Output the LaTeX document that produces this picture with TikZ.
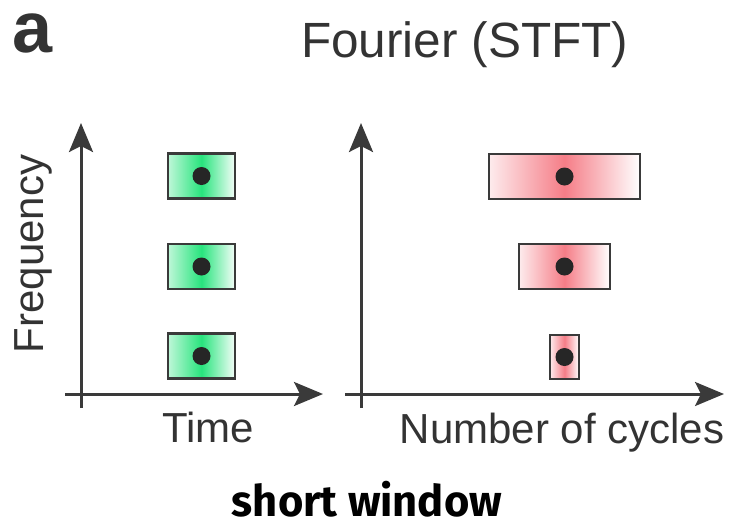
\documentclass[tikz,border=0pt]{standalone}
\usepackage{fontspec}
\setmainfont{Liberation Sans}
\newfontfamily\labelfont{Fira Sans}
\usetikzlibrary{arrows.meta}

\definecolor{inkgray}{HTML}{3A3A3A}
\definecolor{textgray}{HTML}{333333}
\definecolor{tfgreen}{RGB}{40,228,125}
\definecolor{tfred}{RGB}{245,125,135}

\tikzset{
  axis/.style={line width=3pt, draw=inkgray,
    -{Stealth[length=29pt, width=24pt, inset=6pt]}},
  tile/.style={rectangle, draw=inkgray, line width=2.6pt, inner sep=0pt},
  % the middle colour has to come last: left/right colour reset it
  gtile/.style={tile, left color=tfgreen!30, right color=tfgreen!5, middle color=tfgreen},
  rtile/.style={tile, left color=tfred!15, right color=white, middle color=tfred},
  atom/.style={circle, fill=black!85, inner sep=0pt, minimum size=18pt},
  lbl/.style={text=textgray, inner sep=0pt, font=\fontsize{42}{50}\selectfont},
}

\begin{document}
\begin{tikzpicture}[x=1pt, y=-1pt]
  \useasboundingbox (0,0) rectangle (735,520);

  % panel letter and title
  \node[anchor=base west, inner sep=0pt, text=textgray, text height=38pt,
        font=\fontsize{72}{80}\selectfont\bfseries] (panel) at (12,52) {a};
  \node[anchor=base west, inner sep=0pt, text=textgray,
        font=\fontsize{49.5}{56}\selectfont] (title) at (301,57) {Fourier (STFT)};

  % left axes: time vs frequency
  \coordinate (lx0) at (65,394);
  \coordinate (lx1) at (323,394);
  \coordinate (ly0) at (81,408);
  \coordinate (ly1) at (81,123);
  \draw[axis] (lx0) -- (lx1);
  \draw[axis] (ly0) -- (ly1);

  % right axes: number of cycles vs frequency
  \coordinate (rx0) at (345,394);
  \coordinate (rx1) at (724,394);
  \coordinate (ry0) at (361,408);
  \coordinate (ry1) at (361,123);
  \draw[axis] (rx0) -- (rx1);
  \draw[axis] (ry0) -- (ry1);

  % fixed-size tiles in the time-frequency plane
  \node[gtile, minimum width=67pt, minimum height=45pt] (g1) at (201.5,176) {};
  \node[gtile, minimum width=67pt, minimum height=45pt] (g2) at (201.5,266.5) {};
  \node[gtile, minimum width=67pt, minimum height=45pt] (g3) at (201.5,356) {};
  \node[atom] (g1c) at (g1.center) {};
  \node[atom] (g2c) at (g2.center) {};
  \node[atom] (g3c) at (g3.center) {};

  % tiles measured in cycles
  \node[rtile, minimum width=151pt, minimum height=45pt] (r1) at (564.5,176.5) {};
  \node[rtile, minimum width=91pt, minimum height=45pt] (r2) at (564.5,266.5) {};
  \node[rtile, minimum width=29pt, minimum height=44pt] (r3) at (564.5,357) {};
  \node[atom] (r1c) at (r1.center) {};
  \node[atom] (r2c) at (r2.center) {};
  \node[atom] (r3c) at (r3.center) {};

  % axis labels
  \node[lbl, rotate=90, anchor=base] (freq) at (43,254) {Frequency};
  \node[lbl, anchor=base] (time) at (208,442) {Time};
  \node[lbl, anchor=base] (cycles) at (562,443) {Number of cycles};

  % caption
  \node[anchor=base, inner sep=0pt, text=black,
        font=\labelfont\fontsize{43.5}{50}\selectfont\bfseries] (caption) at (367,516) {short window};
\end{tikzpicture}
\end{document}
